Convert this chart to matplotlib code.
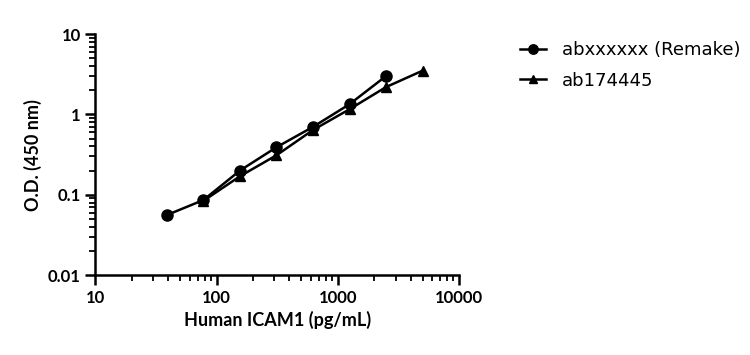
import matplotlib.pyplot as plt

plt.rcParams['font.family'] = ['Lato', 'DejaVu Sans']

conc_remake = [39, 78, 156, 312, 625, 1250, 2500]
od_remake = [0.056, 0.086, 0.20, 0.39, 0.70, 1.34, 3.0]

conc_old = [78, 156, 312, 625, 1250, 2500, 5000]
od_old = [0.084, 0.17, 0.31, 0.64, 1.16, 2.19, 3.5]

labels = ['abxxxxxx (Remake)', 'ab174445']

fig = plt.figure(figsize=(7.5, 3.55), dpi=100)
ax = fig.add_axes([0.127, 0.225, 0.485, 0.679])

ax.plot(conc_old, od_old, color='black', marker='^', ms=7, lw=1.8, label=labels[1])
ax.plot(conc_remake, od_remake, color='black', marker='o', ms=8, lw=1.8, label=labels[0])

ax.set_xscale('log')
ax.set_yscale('log')
ax.set_xlim(10, 10000)
ax.set_ylim(0.01, 10)
ax.set_xticks([10, 100, 1000, 10000])
ax.set_xticklabels(['10', '100', '1000', '10000'])
ax.set_yticks([0.01, 0.1, 1, 10])
ax.set_yticklabels(['0.01', '0.1', '1', '10'])

for side in ['top', 'right']:
    ax.spines[side].set_visible(False)
for side in ['left', 'bottom']:
    ax.spines[side].set_linewidth(1.8)

ax.tick_params(which='major', length=7, width=1.8, labelsize=12)
ax.tick_params(which='minor', length=4, width=1.3)
for lab in ax.get_xticklabels() + ax.get_yticklabels():
    lab.set_fontweight('bold')

ax.set_xlabel('Human ICAM1 (pg/mL)', fontsize=13, fontweight='bold')
ax.set_ylabel('O.D. (450 nm)', fontsize=13, fontweight='bold')

handles, labs = ax.get_legend_handles_labels()
fig.legend(handles[::-1], labs[::-1], loc='upper left', bbox_to_anchor=(0.672, 0.93),
           frameon=False, prop={'family': 'DejaVu Sans', 'size': 13},
           handlelength=1.4, handletextpad=0.9, labelspacing=0.7, markerscale=0.85)

fig.savefig('out.png', dpi=100)
